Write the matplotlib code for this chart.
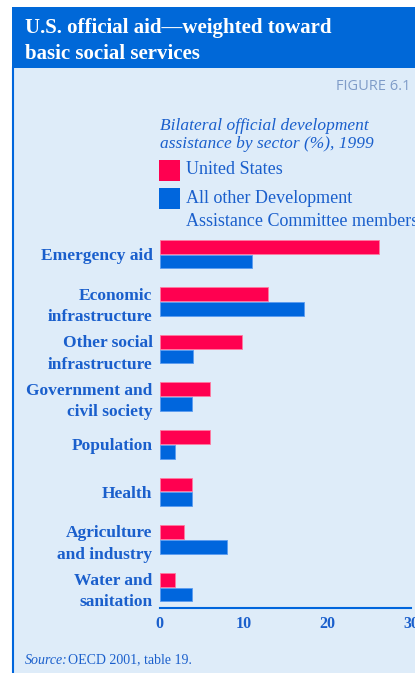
import matplotlib

matplotlib.use("Agg")
import matplotlib.pyplot as plt
from matplotlib.patches import Rectangle

# data (percent of bilateral ODA, 1999)
sectors = [
    "Emergency aid",
    "Economic\ninfrastructure",
    "Other social\ninfrastructure",
    "Government and\ncivil society",
    "Population",
    "Health",
    "Agriculture\nand industry",
    "Water and\nsanitation",
]
us_values = [26.2, 13.0, 9.9, 6.0, 6.0, 3.9, 2.9, 1.9]
other_dac_values = [11.0, 17.2, 4.0, 3.9, 1.9, 3.9, 8.0, 3.9]
x_ticks = [0, 10, 20, 30]

RED = "#ff0050"
BLUE = "#0066dd"
TEXT_BLUE = "#1a5fcc"
HEADER_BLUE = "#0068d8"
PANEL = "#deecf9"

W, H = 415, 673


def fx(px):
    return px / W


def fy(py):
    return 1 - py / H


def draw_frame(fig):
    """Header band, light panel and left border"""
    fig.patches.append(
        Rectangle((fx(12), 0), 1 - fx(12), fy(68), transform=fig.transFigure,
                  facecolor=PANEL, edgecolor="none", zorder=-10)
    )
    fig.patches.append(
        Rectangle((fx(12), fy(68)), 1 - fx(12), fy(7) - fy(68),
                  transform=fig.transFigure, facecolor=HEADER_BLUE,
                  edgecolor="none", zorder=-10)
    )
    fig.add_artist(plt.Line2D([fx(12.5), fx(12.5)], [0, fy(68)],
                              transform=fig.transFigure, color=BLUE, lw=1.5))

    fig.text(fx(25), fy(41), "U.S. official aid\u2014weighted toward\nbasic social services",
             color="white", fontsize=15, fontweight="bold",
             family="Liberation Serif", va="center", ha="left", linespacing=1.4)
    fig.text(fx(410), fy(86), "FIGURE 6.1", color="#7f9cc8", fontsize=10.5,
             family="Open Sans", va="center", ha="right")


def draw_legend(fig):
    fig.text(fx(160), fy(135),
             "Bilateral official development\nassistance by sector (%), 1999",
             color=TEXT_BLUE, fontsize=12.5, style="italic",
             family="Liberation Serif", va="center", ha="left", linespacing=1.25)
    for top, col in [(160, RED), (188, BLUE)]:
        fig.patches.append(
            Rectangle((fx(159), fy(top + 21)), fx(21), fy(top) - fy(top + 21),
                      transform=fig.transFigure, facecolor=col,
                      edgecolor="none", zorder=2)
        )
    fig.text(fx(186), fy(170), "United States", color=TEXT_BLUE, fontsize=13,
             family="Liberation Serif", va="center", ha="left")
    fig.text(fx(186), fy(210),
             "All other Development\nAssistance Committee members",
             color=TEXT_BLUE, fontsize=13, family="Liberation Serif",
             va="center", ha="left", linespacing=1.5)


def draw_bars(fig):
    # axes: x 0..30 -> px 159.5..411, y from px 235 to 608
    ax = fig.add_axes([fx(159.5), fy(608), fx(411) - fx(159.5), fy(235) - fy(608)])
    ax.set_facecolor("none")

    pos = list(range(len(sectors)))
    h = 0.29
    ax.barh([p - 0.155 for p in pos], us_values, height=h, color=RED,
            edgecolor="#ff7aa0", linewidth=0.6)
    ax.barh([p + 0.155 for p in pos], other_dac_values, height=h, color=BLUE,
            edgecolor="#5a9cf0", linewidth=0.6)

    ax.set_xlim(0, 30)
    ax.set_ylim(7.44, -0.40)

    ax.set_yticks(pos)
    ax.set_yticklabels(sectors, family="Liberation Serif", fontsize=12.5,
                       fontweight="bold", color=TEXT_BLUE, linespacing=1.45)
    ax.set_xticks(x_ticks)
    ax.set_xticklabels([str(t) for t in x_ticks], family="Liberation Serif",
                       fontsize=11.5, fontweight="bold", color=TEXT_BLUE)
    ax.tick_params(axis="y", length=0, pad=5)
    ax.tick_params(axis="x", length=0, pad=6)

    for side in ["top", "right", "left"]:
        ax.spines[side].set_visible(False)
    ax.spines["bottom"].set_color(BLUE)
    ax.spines["bottom"].set_linewidth(1.5)
    return ax


def main():
    fig = plt.figure(figsize=(W / 100, H / 100), dpi=100)
    fig.patch.set_facecolor("white")

    draw_frame(fig)
    draw_legend(fig)
    draw_bars(fig)

    fig.text(fx(25), fy(660), "Source:", color=TEXT_BLUE, fontsize=10,
             style="italic", family="Liberation Serif", va="center", ha="left")
    fig.text(fx(68), fy(660), "OECD 2001, table 19.", color=TEXT_BLUE,
             fontsize=10, family="Liberation Serif", va="center", ha="left")

    fig.savefig("out.png", dpi=100)
    plt.close(fig)


if __name__ == "__main__":
    main()
